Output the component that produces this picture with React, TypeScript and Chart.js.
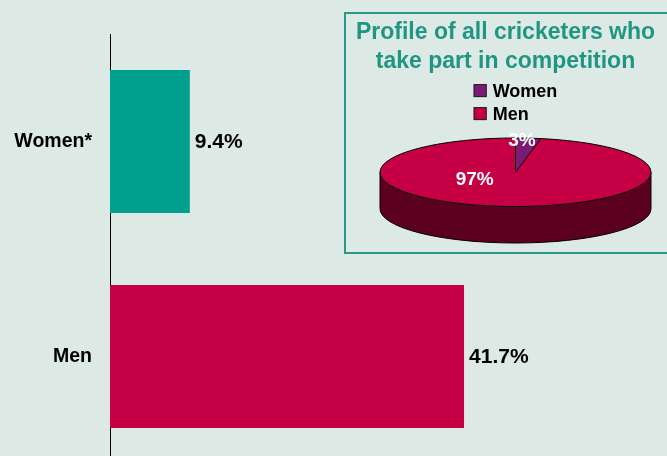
import React, { useEffect, useRef } from 'react';
import { Chart, registerables } from 'chart.js';

Chart.register(...registerables);

// ---- data ----
const barCategories = ['Women*', 'Men'];
const barValues = [9.4, 41.7];
const barColors = ['#00a08e', '#c50045'];

const pieTitle = ['Profile of all cricketers who', 'take part in competition'];
const pieLabels = ['Women', 'Men'];
const pieValues = [3, 97];
const pieColors = ['#7b1b72', '#c50045'];
const pieSideColors = ['#3e0c3a', '#5c0020'];

// ---- styles ----
const BG = '#dde9e4';
const FONT = '"Liberation Sans", Arial, Helvetica, sans-serif';
const TEAL_TEXT = '#1f9683';

const barValueLabels = {
  id: 'barValueLabels',
  afterDatasetsDraw(chart: any) {
    const ctx = chart.ctx;
    const meta = chart.getDatasetMeta(0);
    const data = chart.data.datasets[0].data;
    ctx.save();
    ctx.font = `bold 21px ${FONT}`;
    ctx.fillStyle = '#000';
    ctx.textAlign = 'left';
    ctx.textBaseline = 'middle';
    meta.data.forEach((bar: any, i: number) => {
      ctx.fillText(Number(data[i]).toFixed(1) + '%', bar.x + 5, bar.y + 1);
    });
    ctx.restore();
  },
};

// 3D pie: flattens the library's arcs into an ellipse and extrudes a side
const pie3d = {
  id: 'pie3d',
  beforeDatasetsDraw(chart: any, _args: any, opts: any) {
    const meta = chart.getDatasetMeta(0);
    const arcs = meta.data;
    if (!arcs.length) return;
    const ca = chart.chartArea;
    const a0 = arcs[0];
    const r = a0.outerRadius;
    const left = ca.left + opts.marginLeft;
    const right = ca.right - opts.marginRight;
    const rx = (right - left) / 2;
    const ry = rx * opts.tilt;
    const depth = ca.bottom - ca.top - 2 * ry;
    const cx = (left + right) / 2;
    const cy = ca.top + ry;
    chart.$pie3d = { cx, cy, rx, ry, depth };
    const ctx = chart.ctx;
    ctx.save();
    // side walls (front half only)
    arcs.forEach((arc: any, i: number) => {
      const a = Math.max(arc.startAngle, 0);
      const b = Math.min(arc.endAngle, Math.PI);
      if (a >= b) return;
      ctx.beginPath();
      ctx.ellipse(cx, cy, rx, ry, 0, a, b, false);
      ctx.ellipse(cx, cy + depth, rx, ry, 0, b, a, true);
      ctx.closePath();
      ctx.fillStyle = opts.sideColors[i];
      ctx.fill();
    });
    // side outline
    ctx.beginPath();
    ctx.moveTo(cx + rx, cy);
    ctx.lineTo(cx + rx, cy + depth);
    ctx.ellipse(cx, cy + depth, rx, ry, 0, 0, Math.PI, false);
    ctx.lineTo(cx - rx, cy);
    ctx.strokeStyle = '#000';
    ctx.lineWidth = 1;
    ctx.stroke();
    ctx.restore();
    // flatten the top face
    ctx.save();
    ctx.translate(cx, cy);
    ctx.scale(rx / r, ry / r);
    ctx.translate(-a0.x, -a0.y);
  },
  afterDatasetsDraw(chart: any, _args: any, opts: any) {
    const g = chart.$pie3d;
    if (!g) return;
    const ctx = chart.ctx;
    ctx.restore();
    const { cx, cy, rx, ry } = g;
    const arcs = chart.getDatasetMeta(0).data;
    const data = chart.data.datasets[0].data;
    ctx.save();
    ctx.strokeStyle = '#000';
    ctx.lineWidth = 1;
    ctx.beginPath();
    ctx.ellipse(cx, cy, rx, ry, 0, 0, Math.PI * 2);
    ctx.stroke();
    arcs.forEach((arc: any) => {
      ctx.beginPath();
      ctx.moveTo(cx, cy);
      ctx.lineTo(cx + rx * Math.cos(arc.startAngle), cy + ry * Math.sin(arc.startAngle));
      ctx.stroke();
    });
    // value labels
    ctx.font = `bold 19px ${FONT}`;
    ctx.fillStyle = '#fff';
    ctx.textAlign = 'center';
    ctx.textBaseline = 'middle';
    arcs.forEach((arc: any, i: number) => {
      const mid = (arc.startAngle + arc.endAngle) / 2;
      const f = opts.labelRadius[i];
      const off = opts.labelOffsets[i];
      const x = cx + rx * Math.cos(mid) * f + off[0];
      const y = cy + ry * Math.sin(mid) * f + off[1];
      ctx.fillText(data[i] + '%', x, y);
    });
    ctx.restore();
  },
};

const pieLegend = {
  id: 'pieLegend',
  afterDraw(chart: any, _args: any, opts: any) {
    const ctx = chart.ctx;
    const ca = chart.chartArea;
    const g = chart.$pie3d;
    const centerX = g ? g.cx : (ca.left + ca.right) / 2;
    const labels = chart.data.labels as string[];
    const colors = chart.data.datasets[0].backgroundColor as string[];
    ctx.save();
    ctx.font = `bold ${opts.fontSize}px ${FONT}`;
    const box = opts.boxSize;
    const gap = opts.gap;
    const maxW = Math.max(...labels.map((l) => ctx.measureText(l).width));
    const left = centerX - (box + gap + maxW) / 2;
    const tb = chart.titleBlock;
    const top = tb.bottom - tb.options.padding.bottom + opts.offsetTop;
    labels.forEach((l, i) => {
      const yc = top + i * opts.rowHeight;
      ctx.fillStyle = colors[i];
      ctx.fillRect(left, yc - box / 2, box, box);
      ctx.strokeStyle = '#222';
      ctx.lineWidth = 1;
      ctx.strokeRect(left + 0.5, yc - box / 2 + 0.5, box - 1, box - 1);
      ctx.fillStyle = '#000';
      ctx.textAlign = 'left';
      ctx.textBaseline = 'middle';
      ctx.fillText(l, left + box + gap, yc + 1);
    });
    ctx.restore();
  },
};

export default function App() {
  const barRef = useRef<HTMLCanvasElement>(null);
  const pieRef = useRef<HTMLCanvasElement>(null);

  useEffect(() => {
    const bar = new Chart(barRef.current as HTMLCanvasElement, {
      type: 'bar',
      data: {
        labels: barCategories,
        datasets: [
          {
            data: barValues,
            backgroundColor: barColors,
            borderWidth: 0,
            barPercentage: 0.665,
            categoryPercentage: 1,
          },
        ],
      },
      options: {
        indexAxis: 'y',
        responsive: false,
        animation: false,
        layout: { padding: { top: 34, right: 47.6, bottom: 0, left: 0 } },
        plugins: {
          legend: { display: false },
          tooltip: { enabled: false },
          title: { display: false },
        },
        scales: {
          x: { display: false, min: 0, max: 60 },
          y: {
            grid: { display: false, drawTicks: false },
            border: { display: true, color: '#000', width: 1 },
            ticks: {
              color: '#000',
              padding: 18,
              font: { family: FONT, weight: 'bold', size: 19.5 },
            },
            afterFit: (s: any) => {
              s.width = 110;
              s.paddingTop = 0;
              s.paddingBottom = 0;
            },
          },
        },
      } as any,
      plugins: [barValueLabels],
    });

    const pie = new Chart(pieRef.current as HTMLCanvasElement, {
      type: 'pie',
      data: {
        labels: pieLabels,
        datasets: [
          {
            data: pieValues,
            backgroundColor: pieColors,
            borderWidth: 0,
            clip: false,
          } as any,
        ],
      },
      options: {
        responsive: false,
        animation: false,
        layout: { padding: { left: 0, right: 0, top: 0, bottom: 10 } },
        plugins: {
          legend: { display: false },
          tooltip: { enabled: false },
          title: {
            display: true,
            text: pieTitle,
            color: TEAL_TEXT,
            font: { family: FONT, weight: 'bold', size: 23, lineHeight: 1.23 },
            padding: { top: 7, bottom: 62.4 },
          },
          pie3d: {
            tilt: 0.253,
            marginLeft: 36,
            marginRight: 16,
            sideColors: pieSideColors,
            labelRadius: [0.9, 0.22],
            labelOffsets: [
              [-5, -1],
              [-38, 0],
            ],
          },
          pieLegend: { fontSize: 18, boxSize: 13, gap: 6, rowHeight: 23, offsetTop: 15 },
        },
      } as any,
      plugins: [pie3d, pieLegend],
    });

    return () => {
      bar.destroy();
      pie.destroy();
    };
  }, []);

  return (
    <div
      style={{
        position: 'fixed',
        left: 0,
        top: 0,
        width: 667,
        height: 456,
        overflow: 'hidden',
        background: BG,
      }}
    >
      <canvas
        ref={barRef}
        width={667}
        height={464}
        style={{ position: 'absolute', left: 0, top: 0, display: 'block' }}
      />
      <div
        style={{
          position: 'absolute',
          left: 344,
          top: 11.5,
          width: 340,
          height: 242,
          boxSizing: 'border-box',
          border: '2px solid #2a9a86',
        }}
      />
      <canvas
        ref={pieRef}
        width={323}
        height={241}
        style={{ position: 'absolute', left: 344, top: 12, display: 'block' }}
      />
    </div>
  );
}
